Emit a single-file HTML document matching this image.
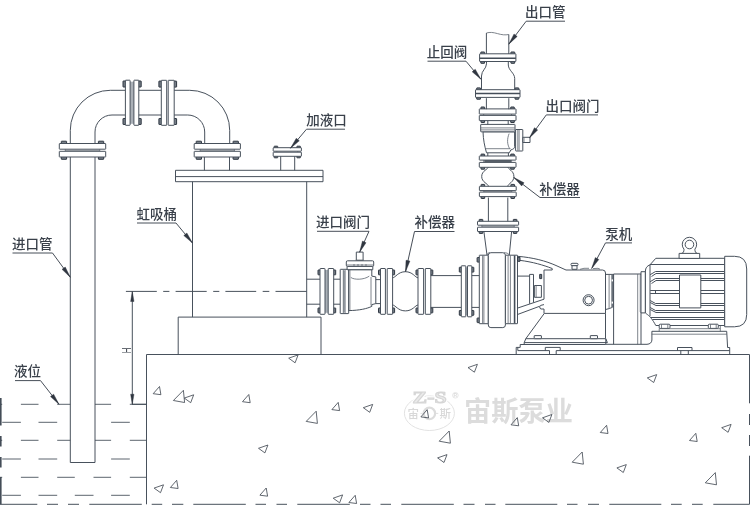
<!DOCTYPE html>
<html lang="zh-CN">
<head>
<meta charset="utf-8">
<title>虹吸桶安装示意图</title>
<style>
html,body{margin:0;padding:0;background:#fff;}
body{width:750px;height:510px;overflow:hidden;font-family:"Liberation Sans","Noto Sans CJK SC",sans-serif;}
svg{display:block;will-change:transform;opacity:.999;}
.g{fill:none;stroke:#444d58;stroke-width:.98;stroke-linecap:butt;stroke-linejoin:round;}
.g .w{fill:#fff;}
.g .b{fill:#767e87;stroke-width:1;stroke:#2f3742;}
.g .thin{stroke-width:.8;stroke:#5d656f;}
.g .t{stroke-width:.82;stroke:#3f4650;}
.g .f{fill:#2f3640;stroke:#2f3640;stroke-width:.4;}
.g .ld{stroke:#434a54;}
.g .wl{stroke:#59616b;}
.lbl text{font-family:"Liberation Sans","Noto Sans CJK SC",sans-serif;font-size:13.5px;font-weight:500;fill:#39404a;}
.wm{fill:#dcdcdc;font-family:"Liberation Sans","Noto Sans CJK SC",sans-serif;}
</style>
</head>
<body>
<svg width="750" height="510" viewBox="0 0 750 510">
<g class="wm">
<ellipse cx="429.4" cy="413.2" rx="25" ry="17.3" fill="none" stroke="#e2e2e2" stroke-width="1"/>
<circle cx="429.4" cy="413.4" r="5.7" fill="none" stroke="#dcdcdc" stroke-width="2.2"/>
<path d="M420.5,413.4 H422.8 M436,413.4 H438.3" stroke="#e0e0e0" stroke-width="1" fill="none"/>
<text x="412.6" y="402.6" font-size="16.6" font-weight="bold" font-family="Liberation Serif,serif" textLength="34" lengthAdjust="spacingAndGlyphs" fill="#fff" stroke="#fff" stroke-width="3">Z-S</text>
<text x="412.6" y="402.6" font-size="16.6" font-weight="bold" font-family="Liberation Serif,serif" textLength="34" lengthAdjust="spacingAndGlyphs" fill="#eaeaea" stroke="#d6d6d6" stroke-width="1">Z-S</text>
<text x="407.4" y="417.5" font-size="11.5" font-weight="500" fill="#d8d8d8">宙</text>
<text x="439.6" y="417.5" font-size="11.5" font-weight="500" fill="#d8d8d8">斯</text>
<circle cx="455.4" cy="395.3" r="2.8" fill="none" stroke="#e0e0e0" stroke-width=".8"/>
<text x="453.6" y="397.1" font-size="5" fill="#dcdcdc" font-weight="bold">R</text>
<text x="464.1" y="421.4" font-size="27.2" font-weight="bold" fill="#dcdcdc">宙斯泵业</text>
</g>
<g class="g">
<line x1="0" y1="404.3" x2="2.2" y2="404.3" class="wl"/>
<line x1="20.9" y1="404.3" x2="38.5" y2="404.3" class="wl"/>
<line x1="57.2" y1="404.3" x2="70.3" y2="404.3" class="wl"/>
<line x1="95" y1="404.3" x2="111.1" y2="404.3" class="wl"/>
<line x1="129.8" y1="404.3" x2="146.5" y2="404.3" class="wl"/>
<line x1="0" y1="440.3" x2="2.2" y2="440.3" class="wl"/>
<line x1="20.9" y1="440.3" x2="38.5" y2="440.3" class="wl"/>
<line x1="57.2" y1="440.3" x2="70.3" y2="440.3" class="wl"/>
<line x1="95" y1="440.3" x2="111.1" y2="440.3" class="wl"/>
<line x1="129.8" y1="440.3" x2="146.5" y2="440.3" class="wl"/>
<line x1="0" y1="477.3" x2="2.2" y2="477.3" class="wl"/>
<line x1="20.9" y1="477.3" x2="38.5" y2="477.3" class="wl"/>
<line x1="57.2" y1="477.3" x2="74.8" y2="477.3" class="wl"/>
<line x1="93.5" y1="477.3" x2="111.1" y2="477.3" class="wl"/>
<line x1="129.8" y1="477.3" x2="146.5" y2="477.3" class="wl"/>
<line x1="2.2" y1="422.3" x2="20.9" y2="422.3" class="wl"/>
<line x1="38.5" y1="422.3" x2="57.2" y2="422.3" class="wl"/>
<line x1="111.1" y1="422.3" x2="129.8" y2="422.3" class="wl"/>
<line x1="2.2" y1="459.0" x2="20.9" y2="459.0" class="wl"/>
<line x1="38.5" y1="459.0" x2="57.2" y2="459.0" class="wl"/>
<line x1="111.1" y1="459.0" x2="129.8" y2="459.0" class="wl"/>
<line x1="2.2" y1="495.3" x2="20.9" y2="495.3" class="wl"/>
<line x1="38.5" y1="495.3" x2="57.2" y2="495.3" class="wl"/>
<line x1="74.8" y1="495.3" x2="93.5" y2="495.3" class="wl"/>
<line x1="111.1" y1="495.3" x2="129.8" y2="495.3" class="wl"/>
<path d="M146.5,504.3 V354.5 H749.5" />
<line x1="146.5" y1="404.3" x2="132" y2="404.3" />
<path d="M749.5,354.5 V403.3 M749.5,414 V425 M749.5,435 V446 M749.5,455.7 V504.3" />
<path d="M0,504.3 H37.3 M47,504.3 H58 M68,504.3 H79 M89.3,504.3 H141.8 M151.7,504.3 H162.2 M172,504.3 H183.3 M193.3,504.3 H245.8 M255.5,504.3 H266 M276.5,504.3 H287 M297.3,504.3 H349.8 M360,504.3 H370.5 M380.5,504.3 H391 M401.3,504.3 H453.8 M463.5,504.3 H474.5 M485,504.3 H495.5 M505.3,504.3 H557.3 M567,504.3 H577.5 M588,504.3 H599 M609.3,504.3 H661.3 M671,504.3 H681.7 M692,504.3 H702.7 M713.3,504.3 H749.5" />
<path d="M0.8,398 V425.5 M0.8,436 V446.5 M0.8,457 V467.5 M0.8,477 V504.3" stroke-width="1.6"/>
<polygon points="159.50,386.50 153.20,393.70 160.90,394.70" class="t"/>
<polygon points="248.80,394.50 242.50,401.70 250.20,402.70" class="t"/>
<polygon points="176.70,480.30 170.40,487.50 178.10,488.50" class="t"/>
<polygon points="266.20,488.00 259.90,495.20 267.60,496.20" class="t"/>
<polygon points="338.20,402.40 331.90,409.60 339.60,410.60" class="t"/>
<polygon points="427.20,409.70 420.90,416.90 428.60,417.90" class="t"/>
<polygon points="355.20,495.30 348.90,502.50 356.60,503.50" class="t"/>
<polygon points="517.30,417.60 511.00,424.80 518.70,425.80" class="t"/>
<polygon points="606.60,425.30 600.30,432.50 608.00,433.50" class="t"/>
<polygon points="695.80,433.30 689.50,440.50 697.20,441.50" class="t"/>
<polygon points="183.40,390.30 173.40,400.50 184.60,402.50" class="t"/>
<polygon points="316.20,411.20 306.20,421.40 317.40,423.40" class="t"/>
<polygon points="449.20,431.00 439.20,441.20 450.40,443.20" class="t"/>
<polygon points="582.20,452.00 572.20,462.20 583.40,464.20" class="t"/>
<polygon points="715.30,472.60 705.30,482.80 716.50,484.80" class="t"/>
<polygon points="184.30,398.10 193.70,394.80 190.70,402.70" class="t"/>
<polygon points="288.70,358.20 298.10,354.90 295.10,362.80" class="t"/>
<polygon points="258.50,448.30 267.90,445.00 264.90,452.90" class="t"/>
<polygon points="154.10,488.10 163.50,484.80 160.50,492.70" class="t"/>
<polygon points="363.30,407.70 372.70,404.40 369.70,412.30" class="t"/>
<polygon points="468.00,367.60 477.40,364.30 474.40,372.20" class="t"/>
<polygon points="437.60,457.90 447.00,454.60 444.00,462.50" class="t"/>
<polygon points="333.20,498.20 342.60,494.90 339.60,502.80" class="t"/>
<polygon points="647.30,377.90 656.70,374.60 653.70,382.50" class="t"/>
<polygon points="542.50,417.80 551.90,414.50 548.90,422.40" class="t"/>
<polygon points="616.90,467.90 626.30,464.60 623.30,472.50" class="t"/>
<polygon points="721.70,427.70 731.10,424.40 728.10,432.30" class="t"/>
<path d="M70.3,157 V462.5 H95 V157" />
<path d="M70.3,143.5 V130.3 A40,40 0 0 1 110.3,90.3 H125.5" />
<path d="M95,143.5 V132 A17,17 0 0 1 112,115 H125.5" />
<rect x="61.30" y="141.20" width="5.30" height="3.30" rx="0.3" class="b"/>
<rect x="61.30" y="156.00" width="5.30" height="3.30" rx="0.3" class="b"/>
<path d="M65.27,149.2 V151.3" class="thin"/>
<rect x="98.40" y="141.20" width="5.30" height="3.30" rx="0.3" class="b"/>
<rect x="98.40" y="156.00" width="5.30" height="3.30" rx="0.3" class="b"/>
<path d="M99.73,149.2 V151.3" class="thin"/>
<rect x="59.30" y="143.50" width="46.40" height="5.70" rx="0.4" class="w"/>
<rect x="59.30" y="151.30" width="46.40" height="5.70" rx="0.4" class="w"/>
<path d="M65.27,150.25 H99.73" class="thin"/>
<rect x="123.00" y="81.00" width="3.40" height="6.00" rx="0.3" class="b"/>
<rect x="137.80" y="81.00" width="3.40" height="6.00" rx="0.3" class="b"/>
<rect x="123.00" y="118.50" width="3.40" height="6.00" rx="0.3" class="b"/>
<rect x="137.80" y="118.50" width="3.40" height="6.00" rx="0.3" class="b"/>
<rect x="130.10" y="81.70" width="3.80" height="42.10" fill="#aab0b7" stroke="none"/>
<rect x="125.40" y="80.20" width="4.70" height="45.10" rx="0.4" class="w"/>
<rect x="133.90" y="80.20" width="4.90" height="45.10" rx="0.4" class="w"/>
<path d="M138.8,90.3 H161.3 M138.8,115 H161.3" />
<rect x="158.90" y="81.10" width="3.40" height="6.00" rx="0.3" class="b"/>
<rect x="173.20" y="81.10" width="3.40" height="6.00" rx="0.3" class="b"/>
<rect x="158.90" y="118.50" width="3.40" height="6.00" rx="0.3" class="b"/>
<rect x="173.20" y="118.50" width="3.40" height="6.00" rx="0.3" class="b"/>
<rect x="161.30" y="80.30" width="5.40" height="45.00" rx="0.4" class="w"/>
<rect x="168.20" y="80.30" width="6.00" height="45.00" rx="0.4" class="w"/>
<path d="M174.2,90.3 H189.7 A40,40 0 0 1 229.7,130.3 V143.5" />
<path d="M174.2,115 H187.7 A17,17 0 0 1 204.7,132 V143.5" />
<rect x="196.20" y="141.20" width="5.30" height="3.30" rx="0.3" class="b"/>
<rect x="196.20" y="156.00" width="5.30" height="3.30" rx="0.3" class="b"/>
<path d="M200.17,149.2 V151.3" class="thin"/>
<rect x="233.10" y="141.20" width="5.30" height="3.30" rx="0.3" class="b"/>
<rect x="233.10" y="156.00" width="5.30" height="3.30" rx="0.3" class="b"/>
<path d="M234.42,149.2 V151.3" class="thin"/>
<rect x="194.20" y="143.50" width="46.20" height="5.70" rx="0.4" class="w"/>
<rect x="194.20" y="151.30" width="46.20" height="5.70" rx="0.4" class="w"/>
<path d="M200.17,150.25 H234.43" class="thin"/>
<path d="M204.4,157 V170.3 M229.5,157 V170.3" />
<rect x="175.50" y="170.30" width="147.50" height="11.40" />
<line x1="175.5" y1="176.6" x2="323" y2="176.6" />
<path d="M192.5,181.7 V317.1 M306.7,181.7 V317.1" />
<path d="M178.2,354.5 V317.1 H321 V354.5" />
<rect x="274.20" y="146.20" width="3.50" height="2.50" rx="0.3" class="b"/>
<rect x="274.20" y="155.30" width="3.50" height="2.50" rx="0.3" class="b"/>
<path d="M276.82,151.2 V152.2" class="thin"/>
<rect x="296.90" y="146.20" width="3.50" height="2.50" rx="0.3" class="b"/>
<rect x="296.90" y="155.30" width="3.50" height="2.50" rx="0.3" class="b"/>
<path d="M297.77,151.2 V152.2" class="thin"/>
<rect x="273.20" y="147.70" width="28.20" height="3.50" rx="0.4" class="w"/>
<rect x="273.20" y="152.20" width="28.20" height="4.10" rx="0.4" class="w"/>
<path d="M280.7,156.3 V170.3 M294.7,156.3 V170.3" />
<path d="M125.9,291.4 H156.8 M163.2,291.4 H169.4 M175.6,291.4 H206.7 M213.2,291.4 H219.3 M225.4,291.4 H256.2 M262.7,291.4 H269.3 M275.5,291.4 H306.7" />
<line x1="132.3" y1="291.4" x2="132.3" y2="404.3" />
<polygon points="132.30,291.60 130.60,301.50 134.00,301.50" class="f"/>
<polygon points="132.30,404.10 130.60,394.20 134.00,394.20" class="f"/>
<path d="M306.7,279.2 H320 M306.7,304.2 H320" />
<rect x="318.00" y="270.00" width="3.00" height="4.80" rx="0.3" class="b"/>
<rect x="332.70" y="270.00" width="3.00" height="4.80" rx="0.3" class="b"/>
<rect x="318.00" y="308.00" width="3.00" height="4.80" rx="0.3" class="b"/>
<rect x="332.70" y="308.00" width="3.00" height="4.80" rx="0.3" class="b"/>
<rect x="325.00" y="270.00" width="3.20" height="42.80" fill="#aab0b7" stroke="none"/>
<rect x="320.00" y="268.50" width="5.00" height="45.80" rx="0.4" class="w"/>
<rect x="328.20" y="268.50" width="5.50" height="45.80" rx="0.4" class="w"/>
<path d="M333.7,279.2 H340.2 M333.7,304.2 H340.2" />
<rect x="340.20" y="269.30" width="8.50" height="44.30" rx="0.4" class="w"/>
<rect x="343.30" y="270.50" width="1.80" height="42.00" fill="#aab0b7" stroke="none"/>
<path d="M343.3,270 V313 M345.1,270 V313" class="thin"/>
<path d="M348.7,269.7 H371.8 V276.1 L375.8,276.9 V303.6 L371.8,304.6 V306.4 C367,308.6 360,310.4 348.7,310.6 Z" class="w"/>
<path d="M349.9,270 V310.4" class="thin"/>
<path d="M350.8,277.4 C354,280 364,280 369.3,276.1" class="thin"/>
<path d="M371,277 V305.5" class="thin"/>
<rect x="347.10" y="266.20" width="25.70" height="3.50" class="w"/>
<rect x="346.30" y="260.80" width="27.40" height="5.60" rx="1.2" class="w"/>
<path d="M346.8,265 H373.2" class="thin"/>
<path d="M354,264 V266 M358,264 V266 M362,264 V266 M366,264 V266" class="thin"/>
<rect x="356.30" y="252.10" width="6.80" height="8.20" class="w"/>
<path d="M355.5,260.3 H364" class="thin"/>
<path d="M375.8,279.6 H380.5 M375.8,303.6 H380.5" />
<rect x="378.50" y="270.00" width="3.00" height="4.80" rx="0.3" class="b"/>
<rect x="391.60" y="270.00" width="3.00" height="4.80" rx="0.3" class="b"/>
<rect x="378.50" y="308.00" width="3.00" height="4.80" rx="0.3" class="b"/>
<rect x="391.60" y="308.00" width="3.00" height="4.80" rx="0.3" class="b"/>
<rect x="380.50" y="268.50" width="4.90" height="45.80" rx="0.4" class="w"/>
<rect x="387.20" y="268.50" width="5.40" height="45.80" rx="0.4" class="w"/>
<path d="M392.6,277.8 C395.5,277.6 398,271.7 405.4,271.7 C412.8,271.7 415.2,277.6 418,277.8" />
<path d="M392.6,305 C395.5,305.2 398,310.9 405.4,310.9 C412.8,310.9 415.2,305.2 418,305" />
<rect x="416.00" y="270.00" width="3.00" height="4.80" rx="0.3" class="b"/>
<rect x="429.80" y="270.00" width="3.00" height="4.80" rx="0.3" class="b"/>
<rect x="416.00" y="308.00" width="3.00" height="4.80" rx="0.3" class="b"/>
<rect x="429.80" y="308.00" width="3.00" height="4.80" rx="0.3" class="b"/>
<rect x="418.00" y="268.50" width="5.60" height="45.80" rx="0.4" class="w"/>
<rect x="425.30" y="268.50" width="5.50" height="45.80" rx="0.4" class="w"/>
<path d="M430.8,275.6 H461.3 M430.8,307.4 H461.3" />
<rect x="459.30" y="267.30" width="3.00" height="4.80" rx="0.3" class="b"/>
<rect x="470.80" y="267.30" width="3.00" height="4.80" rx="0.3" class="b"/>
<rect x="459.30" y="310.50" width="3.00" height="4.80" rx="0.3" class="b"/>
<rect x="470.80" y="310.50" width="3.00" height="4.80" rx="0.3" class="b"/>
<rect x="465.80" y="267.30" width="1.70" height="48.00" fill="#aab0b7" stroke="none"/>
<rect x="461.30" y="265.80" width="4.50" height="51.00" rx="0.4" class="w"/>
<rect x="467.50" y="265.80" width="4.30" height="51.00" rx="0.4" class="w"/>
<path d="M471.8,275.6 H479.3 M471.8,307.4 H479.3" />
<rect x="477.10" y="257.50" width="3.20" height="4.60" rx="0.4" class="b"/>
<rect x="477.10" y="318.00" width="3.20" height="4.60" rx="0.4" class="b"/>
<rect x="479.30" y="255.20" width="9.00" height="68.50" rx="0.4" class="w"/>
<path d="M482.6,255.5 V323.4 M483.9,255.5 V323.4" class="thin"/>
<rect x="488.30" y="252.70" width="17.10" height="74.90" rx="2.6" class="w"/>
<rect x="505.40" y="255.20" width="12.10" height="68.50" rx="0.3" class="w"/>
<path d="M508.1,255.5 V323.4 M510.4,255.5 V323.4" class="thin"/>
<path d="M514.6,255.5 V323.4" stroke-width="1.6"/>
<path d="M483.9,231.5 L487,255 M511.6,231.5 L509.3,255" />
<path d="M487,255 C487.6,253.2 488,252.8 490,252.7 M509.3,255 C508.6,253.2 506,252.7 504,252.7" class="thin"/>
<path d="M517.5,256.3 C533,257.5 546,261 556,265.5 L566,270 H602.5 Q605.5,270 605.5,273 V313.4 H544.3" />
<path d="M519.5,260.3 C533,262 543,265 552.2,268.5 V270 H544 V299.2 M544,309 V313.4" />
<rect x="517.60" y="257.30" width="2.40" height="4.00" class="b"/>
<path d="M517.5,308.1 L544,299.2 M517.5,314.5 L539.8,306.2" />
<rect x="539.70" y="274.40" width="2.00" height="4.20" class="b"/>
<path d="M544,309 H541 Q539.4,308.6 539.8,306.6 L540.6,305.4 L544,304.6" class="w"/>
<path d="M517.5,276.1 H529.6 M529.6,274.4 V303.8 M533.5,274.4 V302.4 M529.6,274.4 H533.5" />
<path d="M534.4,285.5 H541.4 V297.3 H534.4 Z" />
<path d="M536.1,285.5 V297.3" class="thin"/>
<rect x="571.00" y="263.30" width="7.00" height="2.40" rx="1" class="w"/>
<rect x="572.00" y="265.70" width="5.00" height="3.60" class="w"/>
<path d="M580,269.3 L584,268.3 H589 M593,268.6 L598,268.3 L600,269.2" class="thin"/>
<circle cx="588.6" cy="300.2" r="5.5"/>
<circle cx="588.6" cy="300.2" r="3.9"/>
<path d="M544.3,313.4 L525.8,338.7 H605.5" />
<path d="M605.5,313.4 V338.7" />
<rect x="534.20" y="335.60" width="7.20" height="3.10" rx="0.3" class="w"/>
<rect x="590.30" y="335.60" width="7.20" height="3.10" rx="0.3" class="w"/>
<path d="M525.8,338.7 L524.2,342.6 H607.4 L605.8,338.7" />
<path d="M524.2,342.6 V344.5 M520.2,344.5 H605.8" />
<path d="M520.2,344.5 V347.4 H516.2 V354.5" />
<path d="M517.8,347.4 V350.6 H549.5 M556.2,350.6 H729.7" />
<path d="M545.3,350.6 V347.4 H560.2 V350.6 M549.5,350.6 V354.5 M556.2,350.6 V354.5" />
<path d="M605.6,274.4 H613.6 M605.6,309.5 L609.2,308.6 Q612.5,307.6 613.4,306.2" />
<path d="M609.1,274.6 V308.4" class="thin"/>
<rect x="611.30" y="274.80" width="2.20" height="32.40" fill="#6a727b" stroke="none"/>
<rect x="611.60" y="279.40" width="1.40" height="2.00" fill="#fff" stroke="none"/>
<rect x="611.60" y="301.60" width="1.40" height="2.00" fill="#fff" stroke="none"/>
<path d="M613.6,344.3 V274 H641 V344.3" />
<path d="M637.7,274 V344.3" class="thin"/>
<path d="M605.8,338.7 V344.3" />
<rect x="639.60" y="275.00" width="1.80" height="37.00" fill="#aab0b7" stroke="none"/>
<rect x="641.00" y="271.70" width="4.40" height="41.20" class="w"/>
<path d="M645.4,312.9 V271 Q645.5,266.5 650,264.8 L655.8,258.3 H724.7 V325.5 H655.8 C652.5,319.5 650.5,317 647.5,314.6 Q646,313.5 645.4,312.9 Z" class="w"/>
<path d="M650,264.5 H724.7" />
<path d="M650,265 V316.3" />
<path d="M650.2,274.7 L655.5,271.5 H724.7 M651.5,276.5 L656,273.5 H724.7" />
<path d="M650.2,281.7 L655.5,278.5 H724.7 M651.5,283.5 L656,280.5 H724.7" />
<path d="M650.2,300.5 L655.5,303.5 H724.7 M650.2,302.5 L656,305.5 H724.7" />
<path d="M650.2,307.5 L655.5,310.5 H724.7 M650.2,309.5 L656,312.5 H724.7" />
<path d="M650.2,290.5 H724.7 M650.2,293.5 H724.7 M655.5,290.5 V293.5" />
<path d="M650.5,317.5 H724.7 M652.5,319.5 H724.7" />
<rect x="679.50" y="275.00" width="21.30" height="32.90" class="w"/>
<path d="M724.7,256.3 H734.5 Q746.7,256.3 746.7,269 V314.5 Q746.7,326.8 734.5,326.8 H724.7 Z" class="w"/>
<path d="M681.5,253.4 C683.6,253 683.9,251.4 684,249.2 A7.2,7.2 0 1 1 694.9,249.2 C695,251.4 695.3,253 697.4,253.4" class="w"/>
<circle cx="689.45" cy="244.5" r="4.3"/>
<rect x="679.10" y="253.40" width="20.60" height="5.00" class="w"/>
<rect x="659.20" y="324.20" width="10.80" height="4.20" rx="1" class="w"/>
<rect x="708.30" y="324.20" width="10.00" height="4.20" rx="1" class="w"/>
<path d="M661.5,324.4 V328.3 M667.8,324.4 V328.3 M710.5,324.4 V328.3 M716.2,324.4 V328.3" class="thin"/>
<path d="M659.2,328.5 V331.3 M720.3,326 V331.3 M659.2,328.7 H720.3" class="thin"/>
<path d="M605.8,344.3 H647 Q651.6,344 651.9,340 V331.3 H726.7 L727.6,347.5 H729.7 V354.5" />
<path d="M651.7,334.2 H726.9" class="thin"/>
<path d="M677.5,350.6 V347.5 H692 V350.6 M680.8,350.6 V354.5 M688.3,350.6 V354.5" />
<rect x="479.20" y="219.40" width="3.60" height="2.90" rx="0.3" class="b"/>
<rect x="479.20" y="230.50" width="3.60" height="2.90" rx="0.3" class="b"/>
<path d="M481.90,225.2 V227.2" class="thin"/>
<rect x="513.30" y="219.40" width="3.60" height="2.90" rx="0.3" class="b"/>
<rect x="513.30" y="230.50" width="3.60" height="2.90" rx="0.3" class="b"/>
<path d="M514.20,225.2 V227.2" class="thin"/>
<rect x="477.50" y="221.30" width="41.10" height="3.90" rx="0.4" class="w"/>
<rect x="477.50" y="227.20" width="41.10" height="4.30" rx="0.4" class="w"/>
<path d="M481.90,226.20 H514.20" class="thin"/>
<path d="M488.4,197.5 V221.3 M507.8,197.5 V221.3" />
<rect x="481.10" y="184.40" width="3.60" height="2.90" rx="0.3" class="b"/>
<rect x="481.10" y="195.60" width="3.60" height="2.90" rx="0.3" class="b"/>
<path d="M483.80,190.6 V192.1" class="thin"/>
<rect x="510.90" y="184.40" width="3.60" height="2.90" rx="0.3" class="b"/>
<rect x="510.90" y="195.60" width="3.60" height="2.90" rx="0.3" class="b"/>
<path d="M511.80,190.6 V192.1" class="thin"/>
<rect x="479.40" y="186.30" width="36.80" height="4.30" rx="0.4" class="w"/>
<rect x="479.40" y="192.10" width="36.80" height="4.50" rx="0.4" class="w"/>
<path d="M483.80,191.35 H511.80" class="thin"/>
<path d="M488.4,166.7 C488.2,169.5 481.7,170.5 481.7,176.5 C481.7,182.5 488.2,183.5 488.4,186.3" />
<path d="M507.8,166.7 C508,169.5 513.9,170.5 513.9,176.5 C513.9,182.5 508,183.5 507.8,186.3" />
<rect x="481.00" y="154.10" width="3.60" height="2.90" rx="0.3" class="b"/>
<rect x="481.00" y="166.30" width="3.60" height="2.90" rx="0.3" class="b"/>
<path d="M483.70,160.1 V162.4" class="thin"/>
<rect x="510.70" y="154.10" width="3.60" height="2.90" rx="0.3" class="b"/>
<rect x="510.70" y="166.30" width="3.60" height="2.90" rx="0.3" class="b"/>
<path d="M511.60,160.1 V162.4" class="thin"/>
<rect x="484.30" y="160.10" width="26.70" height="2.30" fill="#5a626c" stroke="none"/>
<rect x="479.30" y="156.00" width="36.70" height="4.10" rx="0.4" class="w"/>
<rect x="479.30" y="162.40" width="36.70" height="4.90" rx="0.4" class="w"/>
<path d="M487.8,152.8 V156 M508.4,152.8 V156" />
<path d="M483,131.8 C483.3,140 484.6,146 486.5,152.8 H509.3 L510.8,150 C513.5,149 514.6,148.5 514.6,146.5 V131.8 Z" class="w"/>
<path d="M485.6,148.7 H510.5" class="thin"/>
<path d="M509.1,133.6 C507,139 507,144 509.6,148.6" class="thin"/>
<rect x="480.70" y="124.40" width="34.30" height="7.40" rx="0.4" class="w"/>
<path d="M481,127.9 H514.8 M481,129.9 H514.8" class="thin"/>
<rect x="515.60" y="129.50" width="7.20" height="21.50" rx="0.4" class="w"/>
<path d="M517.8,130 V150.6 M519.1,130 V150.6" class="thin"/>
<rect x="522.80" y="137.30" width="7.20" height="5.20" class="w"/>
<path d="M524,137.5 V142.5" class="thin"/>
<path d="M487.8,120.6 V124.4 M508.2,120.6 V124.4" />
<rect x="481.00" y="107.00" width="3.60" height="2.90" rx="0.3" class="b"/>
<rect x="481.00" y="119.60" width="3.60" height="2.90" rx="0.3" class="b"/>
<path d="M483.70,114.1 V115.4" class="thin"/>
<rect x="510.70" y="107.00" width="3.60" height="2.90" rx="0.3" class="b"/>
<rect x="510.70" y="119.60" width="3.60" height="2.90" rx="0.3" class="b"/>
<path d="M511.60,114.1 V115.4" class="thin"/>
<rect x="479.30" y="108.90" width="36.70" height="5.20" rx="0.4" class="w"/>
<rect x="479.30" y="115.40" width="36.70" height="5.20" rx="0.4" class="w"/>
<path d="M486.4,98.2 V109.2 M508.8,98.2 V109.2" />
<rect x="476.70" y="87.90" width="3.80" height="2.80" rx="0.3" class="b"/>
<rect x="476.70" y="96.40" width="3.80" height="2.80" rx="0.3" class="b"/>
<rect x="515.00" y="87.90" width="3.80" height="2.80" rx="0.3" class="b"/>
<rect x="515.00" y="96.40" width="3.80" height="2.80" rx="0.3" class="b"/>
<rect x="475.50" y="89.70" width="44.50" height="7.70" rx="0.4" class="w"/>
<path d="M475.5,93.5 H520" stroke-width="1.5"/>
<path d="M486.5,61.5 V63.8 C486.3,69 481.5,70.5 481.5,76 V89.7 M508.3,61.5 V65 C508.5,70.5 514.7,73 514.7,78.5 V89.7" />
<rect x="480.80" y="52.00" width="3.80" height="2.80" rx="0.3" class="b"/>
<rect x="480.80" y="60.50" width="3.80" height="2.80" rx="0.3" class="b"/>
<rect x="510.90" y="52.00" width="3.80" height="2.80" rx="0.3" class="b"/>
<rect x="510.90" y="60.50" width="3.80" height="2.80" rx="0.3" class="b"/>
<rect x="479.60" y="53.80" width="36.30" height="7.70" rx="0.4" class="w"/>
<path d="M479.6,58.2 H515.9" stroke-width="1.5"/>
<path d="M486.4,53.8 V33 M508.8,53.8 V34.5" />
<path d="M486.4,33 C490,32 493,32.3 497.5,33.6 C502,34.9 505,35.2 508.8,34.5" class="thin"/>
<path d="M12.5,253 L52.5,253 L70.3,277.3" class="ld"/>
<polygon points="70.30,277.30 62.01,269.37 65.24,267.00" class="f"/>
<path d="M15,380.6 L40.5,380.6 L59,404.3" class="ld"/>
<polygon points="59.00,404.30 50.47,396.62 53.62,394.16" class="f"/>
<path d="M137,223 L176,223 L192.5,243" class="ld"/>
<polygon points="192.50,243.00 183.77,235.56 186.85,233.01" class="f"/>
<path d="M345,129.2 L306.5,129.2 L290.5,148.2" class="ld"/>
<polygon points="290.50,148.20 296.25,138.27 299.31,140.84" class="f"/>
<path d="M317,231.3 L369,231.3 L359.6,252.2" class="ld"/>
<polygon points="359.60,252.20 362.41,241.07 366.06,242.71" class="f"/>
<path d="M454.5,231.5 L414.5,231.5 L405.5,271.7" class="ld"/>
<polygon points="405.50,271.70 406.02,260.24 409.92,261.11" class="f"/>
<path d="M427.5,61.2 L466,61.2 L480.9,79.2" class="ld"/>
<polygon points="480.90,79.20 472.15,71.77 475.24,69.22" class="f"/>
<path d="M565,21.2 L526.2,21.2 L508.8,44.2" class="ld"/>
<polygon points="508.80,44.20 514.02,33.98 517.21,36.39" class="f"/>
<path d="M598,114.9 L546.3,114.9 L529.4,138" class="ld"/>
<polygon points="529.40,138.00 534.46,127.70 537.69,130.06" class="f"/>
<path d="M580,197.5 L540,197.5 L513.9,177.5" class="ld"/>
<polygon points="513.90,177.50 524.09,182.79 521.65,185.96" class="f"/>
<path d="M632,242.9 L605.5,242.9 L591.7,268.5" class="ld"/>
<polygon points="591.70,268.50 595.30,257.60 598.82,259.50" class="f"/>
</g>
<g class="lbl">
<text x="12.1" y="248.6" >进口管</text>
<text x="13.9" y="375.9" >液位</text>
<text x="136.5" y="219.2" >虹吸桶</text>
<text x="306.2" y="124.8" >加液口</text>
<text x="316.1" y="227.2" >进口阀门</text>
<text x="414.4" y="227.1" >补偿器</text>
<text x="426.8" y="57.4" >止回阀</text>
<text x="524.9" y="17.4" >出口管</text>
<text x="545.5" y="110.8" >出口阀门</text>
<text x="539.3" y="193.6" >补偿器</text>
<text x="605.2" y="238.9" >泵机</text>
<text transform="translate(130.8,350.3) rotate(-90) scale(0.58,1)" text-anchor="middle" font-size="14.4">H</text>
</g>
</svg>
</body>
</html>
